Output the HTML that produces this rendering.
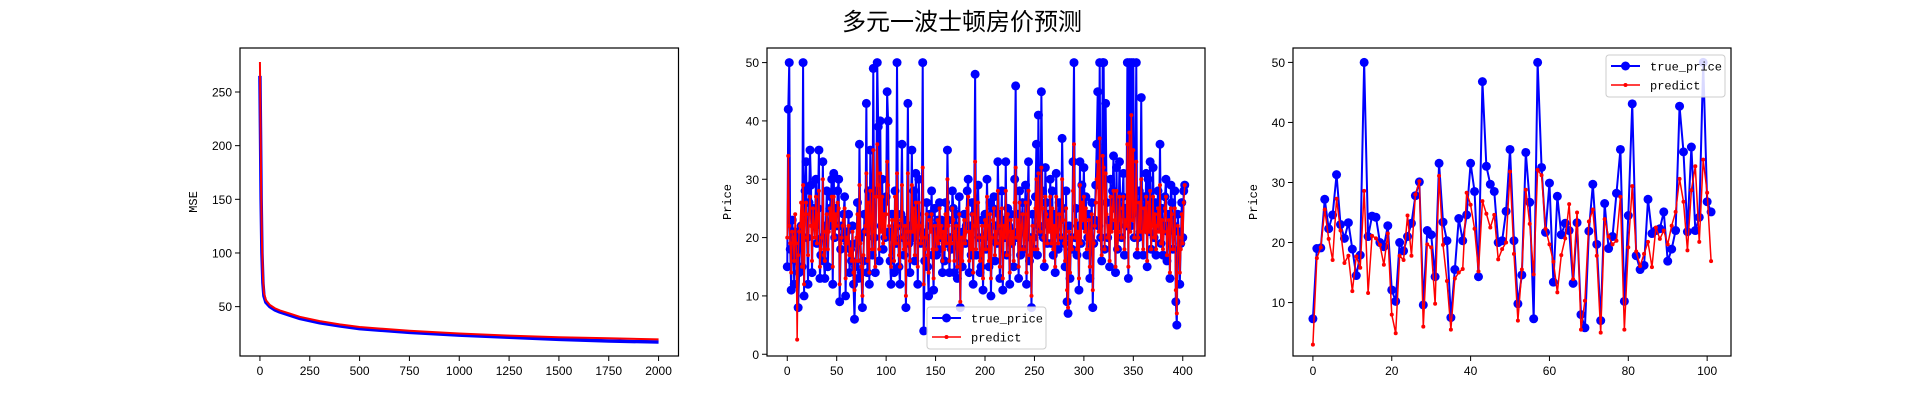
<!DOCTYPE html>
<html><head><meta charset="utf-8">
<style>
html,body{margin:0;padding:0;background:#fff;}
svg{display:block;font-family:"Liberation Sans","Noto Sans CJK SC",sans-serif;}
</style></head>
<body>
<svg id="fig" width="1923" height="400" viewBox="0 0 1923 400">
<text x="962" y="30" text-anchor="middle" font-size="24" font-family="'Noto Sans CJK SC','WenQuanYi Zen Hei',sans-serif">多元一波士顿房价预测</text>
</svg>
<script>
// ---- Plot 1: MSE curves ----
const mseEpochs = [0,3,6,10,15,20,30,50,75,100,150,200,300,400,500,750,1000,1250,1500,1750,2000];
const mseTrain  = [265,210,150,100,72,60,54,50,47,45,42,39,35,32,29.5,26,23.5,21.5,19.5,18,17];
const mseTest   = [278,220,160,110,78,63,56,51.5,48.5,46.5,43.5,40.5,36.5,33.5,31,27.5,25,23,21.5,20.5,19.5];
const mseXTicks = [0,250,500,750,1000,1250,1500,1750,2000];
const mseYTicks = [50,100,150,200,250];

// ---- Plot 2: training-set prices ----
const trainTrue = [15,42,50,18,11,23,20,12,21,16,19,8,14,20,22,15,50,10,28,33,
20,12,26,35,29,14,25,24,22,30,19,25,35,13,17,20,33,16,13,22,
28,15,22,25,27,30,12,31,20,25,22,28,30,9,18,22,20,24,27,10,
21,19,24,14,18,16,22,12,6,15,19,26,13,36,20,14,8,16,24,21,
43,14,28,12,35,25,17,49,20,14,28,50,39,16,40,22,30,18,26,20,
27,45,40,21,16,12,24,20,14,28,19,50,22,15,12,24,36,20,17,23,
8,22,43,19,14,22,35,20,28,16,31,24,12,30,22,19,21,50,4,16,
20,26,15,10,24,22,28,17,11,25,21,17,23,18,26,20,23,14,22,16,
26,19,35,23,14,20,18,28,25,14,22,24,13,19,27,8,20,15,21,24,
19,22,28,30,14,22,17,26,12,24,48,17,23,29,20,14,15,23,11,20,
24,18,30,22,15,26,10,20,25,27,16,22,19,33,24,13,21,28,11,23,
20,33,17,25,22,12,24,19,21,15,30,46,20,24,13,28,17,22,26,18,
21,29,12,26,33,16,20,8,24,20,18,27,36,17,41,22,21,45,28,20,
15,32,26,19,24,22,30,19,28,17,24,14,31,22,18,26,23,20,37,25,
19,15,28,9,7,22,13,20,18,33,50,20,25,17,22,11,33,19,29,25,
32,22,27,17,20,24,13,22,26,8,19,23,29,36,45,22,50,20,16,50,
50,18,43,26,20,23,15,30,22,28,34,25,14,32,18,22,33,24,20,27,
31,17,25,22,50,13,50,22,50,24,50,20,26,50,17,20,28,21,44,22,
17,27,22,31,15,30,21,33,18,24,32,20,26,17,24,28,22,36,19,25,
17,22,27,30,16,21,24,13,29,26,18,22,28,9,5,24,21,12,19,26,
20,28,29];
const trainPred = [20,34,22,19,14,21,20,16,24,19,2.5,17,21,22,26,15,29,12,24,26,
20,17,24,27,22,16,25,22,20,27,19,24,28,15,18,20,30,17,16,21,
24,18,21,25,23,27,15,27,20,24,22,26,25,12,19,20,22,23,25,13,
20,19,22,17,18,16,21,14,11,16,20,24,16,29,19,15,10,17,21,22,
31,16,26,14,28,23,18,35,21,15,27,36,29,18,31,21,27,19,24,20,
24,33,29,22,17,15,23,20,16,27,19,31,22,17,15,23,29,20,18,22,
10,21,31,19,16,21,29,21,25,17,26,22,15,26,22,19,20,32,12,18,
20,24,17,14,23,21,24,18,13,22,20,18,23,19,25,20,22,16,21,18,
24,19,30,22,16,20,19,25,23,16,21,22,15,19,24,9,20,16,20,23,
19,21,25,27,16,21,18,24,14,22,33,18,22,26,20,16,17,22,13,20,
23,18,27,22,16,24,13,20,23,25,17,21,19,28,22,15,21,25,13,22,
20,28,17,24,21,14,23,19,21,16,26,32,20,23,15,26,18,22,24,18,
20,26,14,24,28,17,20,10,22,20,18,25,30,18,31,22,21,32,25,20,
16,27,24,19,23,21,27,19,25,18,22,15,27,21,19,24,22,20,30,23,
19,16,25,11,8,21,14,20,18,28,36,20,23,18,21,13,29,19,26,23,
27,21,25,18,20,23,15,21,24,11,19,22,26,30,33,21,37,20,17,34,
32,18,31,24,20,22,16,27,21,25,28,23,15,28,18,21,27,23,20,25,
27,18,23,22,36,15,38,21,41,23,35,20,25,33,18,20,26,21,30,21,
18,25,21,27,16,26,21,28,18,22,27,20,24,18,22,25,21,29,19,23,
18,21,25,27,17,21,23,14,25,24,18,21,25,11,7,22,20,14,18,24,
19,26,29];
const trainXTicks = [0,50,100,150,200,250,300,350,400];
const trainYTicks = [0,10,20,30,40,50];

// ---- Plot 3: test-set prices ----
const testTrue = [7.3,19.0,19.1,27.2,22.3,24.6,31.3,23,20.7,23.3,18.9,14.5,17.9,50,21,24.4,24.2,20,19.3,22.8,
12.1,10.2,20,18.6,21,23.2,27.8,30.1,9.6,22,21.3,14.3,33.2,23.4,20.3,7.5,15.5,24,20.3,24.6,
33.2,28.5,14.3,46.8,32.7,29.7,28.5,20,20.3,25.2,35.5,20.3,9.8,14.6,35,26.7,7.3,50,32.5,21.7,
29.9,13.4,27.7,21.3,23.2,22,13.2,23.3,8,5.8,21.9,29.7,19.7,7,26.5,19,21,28.2,35.5,10.2,
24.5,43.1,17.8,15.5,16.2,27.2,21.5,22,22.3,25.1,16.9,18.9,22,42.7,35.1,21.8,35.9,22,24.2,50,
26.8,25.1];
const testPred = [3,17.4,19.2,25.5,20.6,17.1,27.3,22,16.6,17.8,11.9,17.7,15.8,28.6,11.6,21.1,20.7,19.6,16.3,21.5,
8,4.9,17.8,17.1,24.5,17.8,28,30.2,6,19.7,19.2,9.8,31.1,19.6,13.6,5.5,14,15,15.6,28.3,
26.3,22.3,15.2,26.9,24.8,22.5,24.6,17.2,18.9,20,31.8,18.1,7,15.5,28.8,23.1,14.7,32.1,31.2,22.3,
19.7,16.8,11.7,17.9,20.7,26.4,13.9,25,5.5,10.3,23.5,25.5,17.8,5,23.9,21,19.7,20.3,27.6,5.5,
19.2,29.4,18.5,16.1,18.1,20.1,15.9,22.5,20.6,22,19.7,22.8,25.1,30.6,26.8,18.7,28.7,32.7,20.1,33.8,
28.3,16.9];
const testXTicks = [0,20,40,60,80,100];
const testYTicks = [10,20,30,40,50];

const NS = "http://www.w3.org/2000/svg";
const svg = document.getElementById('fig');
function mk(tag, attrs, parent){
  const e = document.createElementNS(NS, tag);
  for (const k in attrs) e.setAttribute(k, attrs[k]);
  (parent||svg).appendChild(e);
  return e;
}
function scale(d0,d1,r0,r1){ return v => r0 + (v-d0)/(d1-d0)*(r1-r0); }

function makeAxes(name, box, xlim, ylim, xticks, yticks, ylabel, ylabOff){
  const g = mk('g', {});
  
  
  const X = scale(xlim[0], xlim[1], box.l, box.r);
  const Y = scale(ylim[0], ylim[1], box.b, box.t);
  const frame = mk('rect', {x:box.l, y:box.t, width:box.r-box.l, height:box.b-box.t, fill:'#fff', stroke:'none'}, g);
  
  
  const marks = mk('g', {}, g);
  
  
  const axg = mk('g', {}, g);
  
  
  xticks.forEach(t => {
    const x = X(t);
    mk('line', {x1:x, x2:x, y1:box.b, y2:box.b+5, stroke:'#000', 'stroke-width':1}, axg);
    const tx = mk('text', {x:x, y:box.b+19, 'text-anchor':'middle', 'font-size':12}, axg);
    tx.textContent = t;
    
    
  });
  yticks.forEach(t => {
    const y = Y(t);
    mk('line', {x1:box.l-5, x2:box.l, y1:y, y2:y, stroke:'#000', 'stroke-width':1}, axg);
    const tx = mk('text', {x:box.l-8, y:y+4.5, 'text-anchor':'end', 'font-size':12}, axg);
    tx.textContent = t;
    
    
  });
  mk('rect', {x:box.l, y:box.t, width:box.r-box.l, height:box.b-box.t, fill:'none', stroke:'#000', 'stroke-width':1.2}, axg);
  const yl = mk('text', {x:0, y:0, 'text-anchor':'middle', 'font-size':12, 'font-family':"'Liberation Mono',monospace",
    transform:`translate(${box.l-ylabOff},${(box.t+box.b)/2}) rotate(-90)`}, axg);
  yl.textContent = ylabel;
  
  
  const clip = 'clip-' + name;
  const cp = mk('clipPath', {id:clip}, g);
  mk('rect', {x:box.l, y:box.t, width:box.r-box.l, height:box.b-box.t}, cp);
  marks.setAttribute('clip-path', `url(#${clip})`);
  return {X, Y, marks, g};
}

function drawLine(ax, xs, ys, color, width, name){
  const pts = ys.map((v,i) => ax.X(xs[i]).toFixed(2)+','+ax.Y(v).toFixed(2)).join(' ');
  const pl = mk('polyline', {points:pts, fill:'none', stroke:color, 'stroke-width':width, 'stroke-linejoin':'round'}, ax.marks);
  
  
}
function drawDots(ax, ys, color, r, name){
  const g = mk('g', {fill:color}, ax.marks);
  
  
  ys.forEach((v,i) => {
    const c = mk('circle', {cx:ax.X(i).toFixed(2), cy:ax.Y(v).toFixed(2), r:r}, g);
    
    
  });
}
function legend(ax, x, y, name){
  const g = mk('g', {}, ax.g);
  
  
  mk('rect', {x:x, y:y, width:119, height:42, rx:3, fill:'#fff', 'fill-opacity':0.85, stroke:'#ccc'}, g);
  const items = [['true_price','#0000ff',4.5,2],['predict','#ff0000',2,1.5]];
  items.forEach((it,k) => {
    const yy = y + 11 + k*19;
    const e = mk('g', {}, g);
    
    
    mk('line', {x1:x+5, x2:x+34, y1:yy, y2:yy, stroke:it[1], 'stroke-width':it[3]}, e);
    mk('circle', {cx:x+19.5, cy:yy, r:it[2], fill:it[1]}, e);
    const t = mk('text', {x:x+44, y:yy+4.5, 'font-size':12, 'font-family':"'Liberation Mono',monospace"}, e);
    t.textContent = it[0];
  });
}

// Plot 1
const ax1 = makeAxes('mse-chart', {l:240, r:678.5, t:48, b:356}, [-100,2100], [4,291], mseXTicks, mseYTicks, 'MSE', 43);
drawLine(ax1, mseEpochs, mseTrain, '#0000ff', 3.5, 'train-mse-line');
drawLine(ax1, mseEpochs, mseTest, '#ff0000', 2, 'test-mse-line');

// Plot 2
const ax2 = makeAxes('train-price-chart', {l:767, r:1205, t:48, b:356}, [-20.5,422.5], [-0.3,52.5], trainXTicks, trainYTicks, 'Price', 36);
drawLine(ax2, trainTrue.map((v,i)=>i), trainTrue, '#0000ff', 2, 'true-price-line');
drawDots(ax2, trainTrue, '#0000ff', 4.5, 'true-price-markers');
drawLine(ax2, trainPred.map((v,i)=>i), trainPred, '#ff0000', 1.5, 'predict-line');
drawDots(ax2, trainPred, '#ff0000', 2, 'predict-markers');
legend(ax2, 927, 307, 'legend-train');

// Plot 3
const ax3 = makeAxes('test-price-chart', {l:1293, r:1731, t:48, b:356}, [-5.05,106.05], [1.1,52.4], testXTicks, testYTicks, 'Price', 36);
drawLine(ax3, testTrue.map((v,i)=>i), testTrue, '#0000ff', 2, 'true-price-line');
drawDots(ax3, testTrue, '#0000ff', 4.5, 'true-price-markers');
drawLine(ax3, testPred.map((v,i)=>i), testPred, '#ff0000', 1.5, 'predict-line');
drawDots(ax3, testPred, '#ff0000', 2, 'predict-markers');
legend(ax3, 1606, 55, 'legend-test');
</script>
</body></html>
